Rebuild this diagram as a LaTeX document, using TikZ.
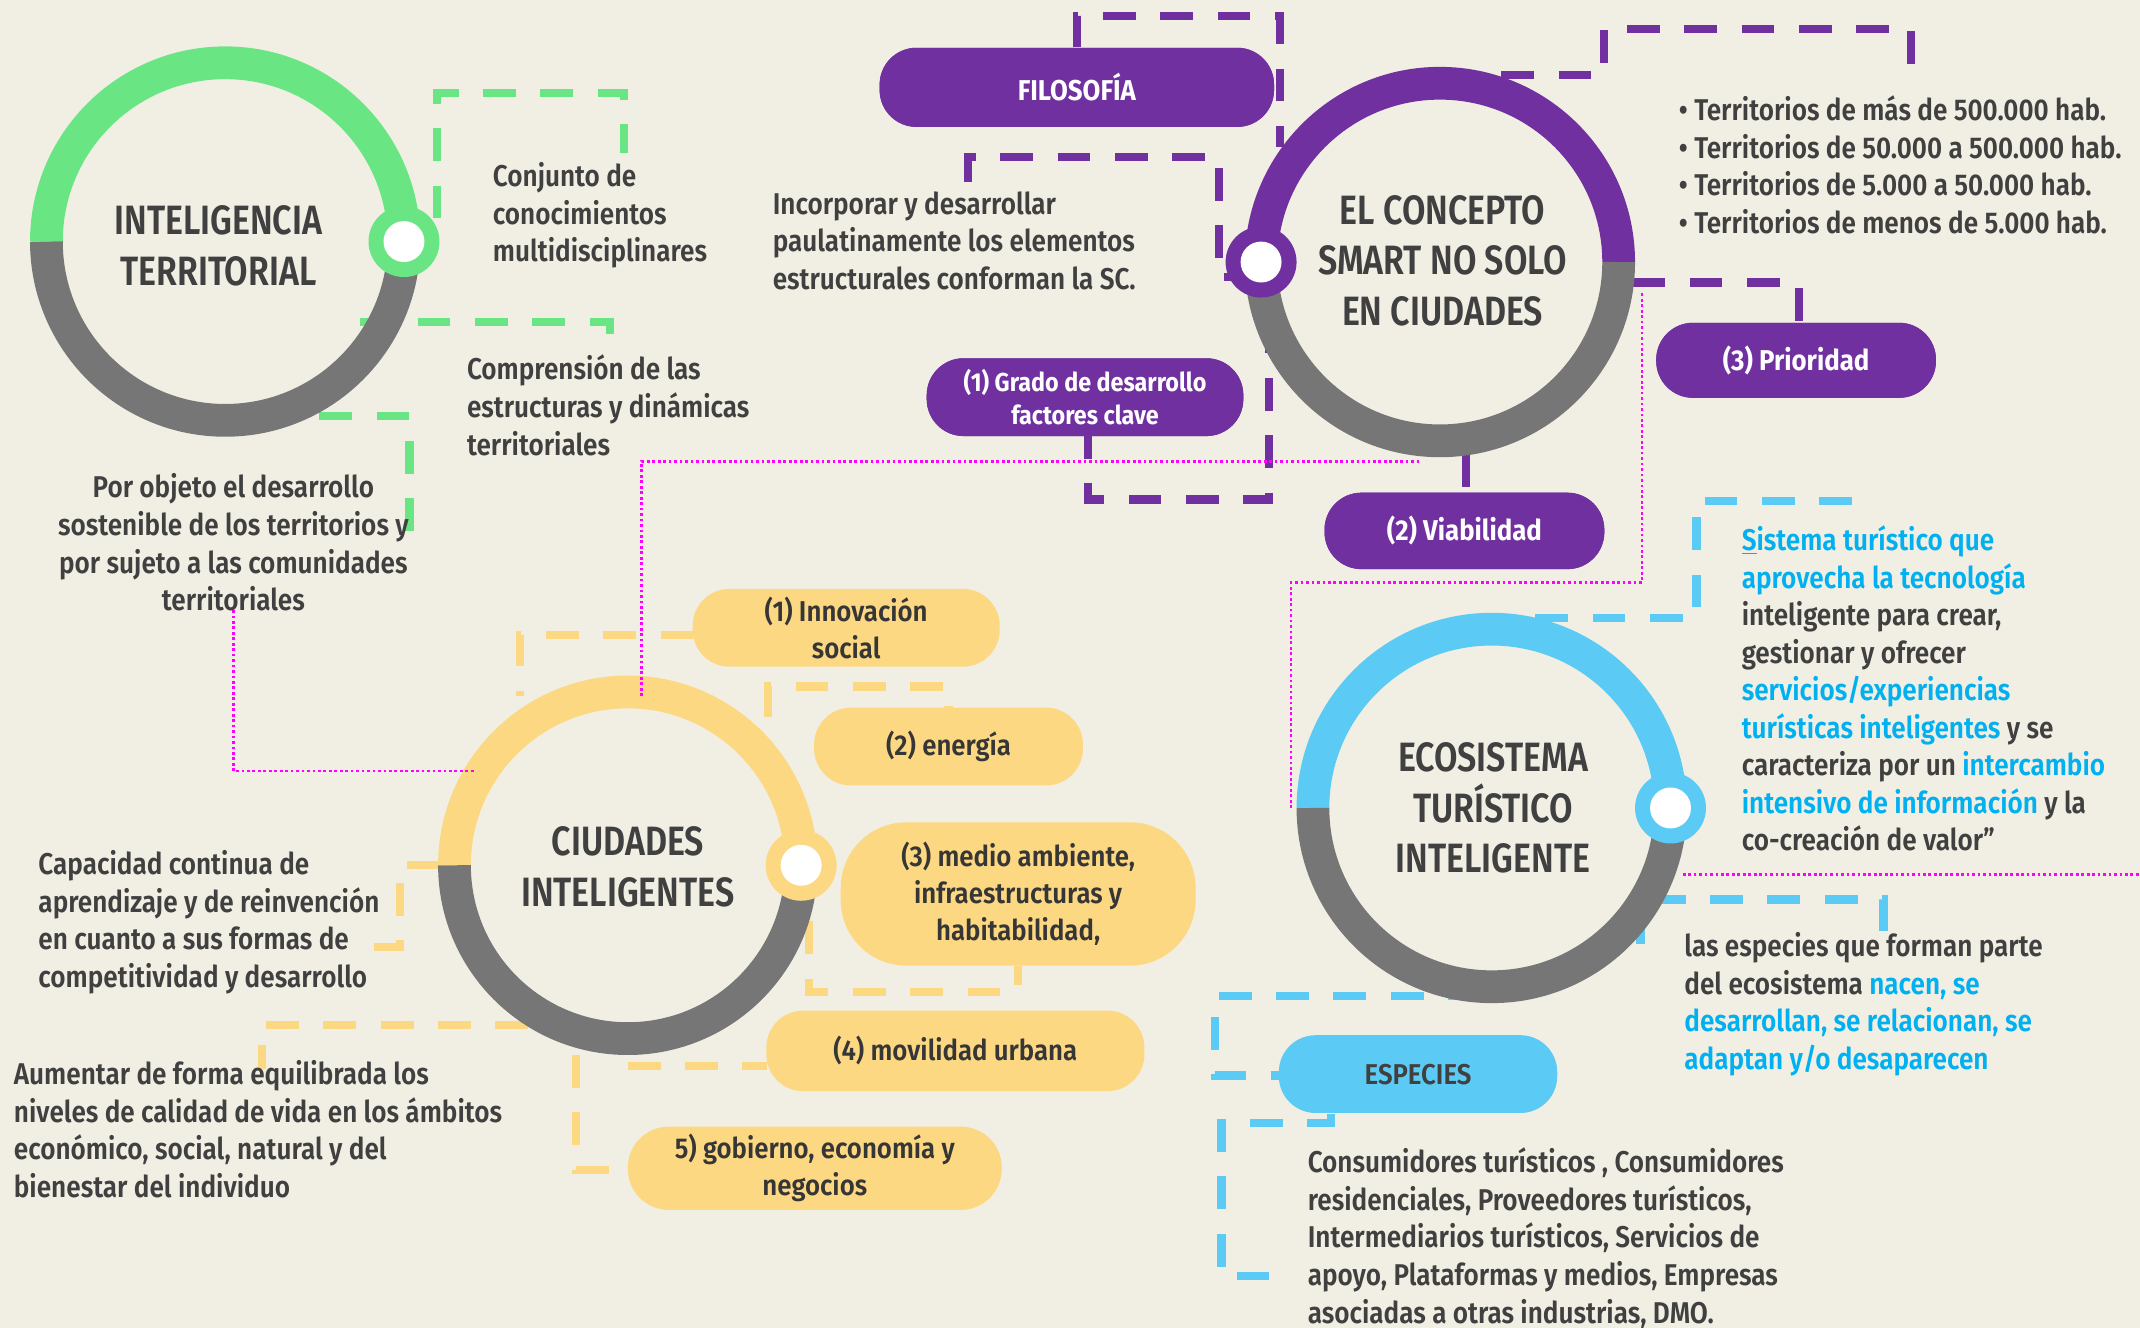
\documentclass[tikz,border=0pt]{standalone}
\usepackage{fontspec}
\setmainfont{Fira Sans}[UprightFont={* Medium}, BoldFont={* SemiBold}]
\newfontfamily\fbody{Fira Sans}[UprightFont={* SemiBold}, BoldFont={* Bold}, FakeStretch=0.87]
\newfontfamily\ftitle{Fira Sans}[UprightFont={* SemiBold}, BoldFont={* Bold}, FakeStretch=0.83]
\newfontfamily\fpill{Fira Sans}[UprightFont={* Bold}, BoldFont={* Bold}, FakeStretch=0.9]
\newfontfamily\fypill{Fira Sans}[UprightFont={* SemiBold}, BoldFont={* Bold}, FakeStretch=0.9]
\definecolor{bg}{HTML}{F1EFE3}
\definecolor{cgreen}{HTML}{6AE584}
\definecolor{cpurple}{HTML}{7030A0}
\definecolor{cyellow}{HTML}{FDD882}
\definecolor{cblue}{HTML}{5BCBF5}
\definecolor{cgray}{HTML}{767676}
\definecolor{ctext}{HTML}{404040}
\definecolor{cbt}{HTML}{00B0F0}
\definecolor{cmag}{HTML}{FF00FF}
\newcommand\drawring[5]{% x y color knobangle midradius
  \draw[line width=24pt, #3] (#1,#2) ++(180:#5) arc[start angle=180, end angle=360, radius=#5];
  \draw[line width=24pt, cgray] (#1,#2) ++(0:#5) arc[start angle=0, end angle=180, radius=#5];
  \fill[#3] (#1,#2) ++(#4:#5) circle[radius=26];
  \fill[white] (#1,#2) ++(#4:#5) circle[radius=15];
}
\begin{document}
\begin{tikzpicture}[x=1pt,y=-1pt,
  dashline/.style={line width=6pt, dash pattern=on 24pt off 18pt},
  dotline/.style={cmag, line width=2pt, dash pattern=on 2pt off 2pt},
  body/.style={inner sep=0pt, align=left, text=ctext, font=\fbody\fontsize{22}{27.5}\selectfont},
  title/.style={inner sep=0pt, align=center, text=ctext, font=\ftitle\fontsize{30}{37}\selectfont},
  ppill/.style={fill=cpurple, text=white, rounded corners=27pt, inner sep=0pt, align=center, font=\fpill\fontsize{21}{25}\selectfont},
  ypill/.style={fill=cyellow, text=ctext!85!black, rounded corners=27pt, inner sep=0pt, align=center, font=\fypill\fontsize{21}{27}\selectfont},
  bpill/.style={fill=cblue, text=ctext, rounded corners=27pt, inner sep=0pt, align=center, font=\fypill\fontsize{21}{27}\selectfont},
  ring/.style={circle, inner sep=0pt, minimum size=286pt}
  ]
\fill[bg] (0,0) rectangle (1568,973);
\useasboundingbox (0,0) rectangle (1568,973);

% circle anchors
\node[ring] (cit) at (165,177) {};
\node[ring] (csc) at (1055,192) {};
\node[ring, minimum size=280pt] (cci) at (460,634) {};
\node[ring] (ceti) at (1093,592) {};

% pill positions
\path node[ppill, minimum width=289pt, minimum height=58pt] (filo) at (789,64) {};
\path node[ppill, minimum width=232pt, minimum height=57pt] (grado) at (795,291) {};
\path node[ppill, minimum width=205pt, minimum height=56pt] (viab) at (1073,389) {};
\path node[ppill, minimum width=205pt, minimum height=55pt] (prior) at (1316,264) {};

% green dashed
\draw[dashline, cgreen] (320,160) -- (320,68) -- (457,68) -- (457,112);
\draw[dashline, cgreen] (264,236) -- (447,236) -- (447,247);
\draw[dashline, cgreen] (234,305) -- (300,305) -- (300,389);
% purple dashed
\draw[dashline, cpurple] (filo.north) -- (789,12) -- (938,12) -- (938,108);
\draw[dashline, cpurple] (709,133) -- (709,115) -- (893,115) -- (893,203) -- (905,203);
\draw[dashline, cpurple] (930,235) -- (930,366) -- (797,366) -- (grado.south -| 797,0);
\draw[dashline, cpurple] (1074,333) -- (viab.north -| 1074,0);
\draw[dashline, cpurple] (1100,55) -- (1175,55) -- (1175,21) -- (1400,21) -- (1400,51);
\draw[dashline, cpurple] (1196,207) -- (1318,207) -- (prior.north -| 1318,0);
% yellow dashed
\draw[dashline, cyellow] (508,465) -- (381,465) -- (381,510);
\draw[dashline, cyellow] (563,525) -- (563,503) -- (695,503) -- (695,519);
\draw[dashline, cyellow] (593,675) -- (593,727) -- (746,727) -- (746,708);
\draw[dashline, cyellow] (460,781) -- (562,781);
\draw[dashline, cyellow] (422,773) -- (422,857) -- (460,857);
\draw[dashline, cyellow] (322,634) -- (293,634) -- (293,694) -- (264,694);
\draw[dashline, cyellow] (387,751) -- (192,751) -- (192,783);
% blue dashed
\draw[dashline, cblue] (1125,453) -- (1243,453) -- (1243,367) -- (1362,367);
\draw[dashline, cblue] (1202,692) -- (1202,659) -- (1380,659) -- (1380,683);
\draw[dashline, cblue] (1085,730) -- (890,730) -- (890,788) -- (937,788);
\draw[dashline, cblue] (975,816) -- (975,823) -- (895,823) -- (895,935) -- (942,935);

% rings
\drawring{165}{177}{cgreen}{0}{131}
\drawring{1055}{192}{cpurple}{180}{131}
\drawring{460}{634}{cyellow}{0}{127}
\drawring{1093}{592}{cblue}{0}{131}

% magenta dotted
\draw[dotline] (171,447) -- (171,565) -- (348,565);
\draw[dotline] (470,510) -- (470,338) -- (1040,338);
\draw[dotline] (946,592) -- (946,427) -- (1203,427) -- (1203,214);
\draw[dotline] (1233,641) -- (1568,641);

% pills on top
\node[ppill, minimum width=289pt, minimum height=58pt] at (filo) {FILOSOFÍA};
\node[ppill, minimum width=232pt, minimum height=57pt, font=\fpill\fontsize{19}{24.5}\selectfont] at (grado) {(1) Grado de desarrollo\\factores clave};
\node[ppill, minimum width=205pt, minimum height=56pt] at (viab) {(2) Viabilidad};
\node[ppill, minimum width=205pt, minimum height=55pt] at (prior) {(3) Prioridad};
\node[ypill, minimum width=225pt, minimum height=57pt] (innov) at (620,460) {(1) Innovación\\social};
\node[ypill, minimum width=197pt, minimum height=57pt] (energ) at (695,547) {(2) energía};
\node[ypill, minimum width=260pt, minimum height=105pt, rounded corners=48pt] (medio) at (746,655) {(3) medio ambiente,\\infraestructuras y\\habitabilidad,};
\node[ypill, minimum width=277pt, minimum height=59pt] (movil) at (700,770) {(4) movilidad urbana};
\node[ypill, minimum width=274pt, minimum height=61pt, rounded corners=30pt] (gob) at (597,856) {5) gobierno, economía y\\negocios};
\node[bpill, minimum width=204pt, minimum height=57pt] (espec) at (1039,787) {ESPECIES};

% titles
\node[title] at (160,180) {INTELIGENCIA\\TERRITORIAL};
\node[title] at (1057,191) {EL CONCEPTO\\SMART NO SOLO\\EN CIUDADES};
\node[title] at (460,635) {CIUDADES\\INTELIGENTES};
\node[title] at (1094,592) {ECOSISTEMA\\TURÍSTICO\\INTELIGENTE};

% body texts
\node[body, anchor=north west] (tconj) at (361,119) {Conjunto de\\conocimientos\\multidisciplinares};
\node[body, anchor=north west] (tcomp) at (342,260) {Comprensión de las\\estructuras y dinámicas\\territoriales};
\node[body, anchor=north, align=center] (tpor) at (171,347) {Por objeto el desarrollo\\sostenible de los territorios y\\por sujeto a las comunidades\\territoriales};
\node[body, anchor=north west] (tinc) at (566,140) {Incorporar y desarrollar\\paulatinamente los elementos\\estructurales conforman la SC.};
\node[body, anchor=north west] (tbul) at (1230,70) {• Territorios de más de 500.000 hab.\\• Territorios de 50.000 a 500.000 hab.\\• Territorios de 5.000 a 50.000 hab.\\• Territorios de menos de 5.000 hab.};
\node[body, anchor=north west] (tsis) at (1276,385) {{\color{cbt}\underline{S}istema turístico que}\\{\color{cbt}aprovecha la tecnología}\\inteligente para crear,\\gestionar y ofrecer\\{\color{cbt}servicios/experiencias}\\{\color{cbt}turísticas inteligentes} y se\\caracteriza por un {\color{cbt}intercambio}\\{\color{cbt}intensivo de información} y la\\co-creación de valor”};
\node[body, anchor=north west] (tesp) at (1234,683) {las especies que forman parte\\del ecosistema {\color{cbt}nacen, se}\\{\color{cbt}desarrollan, se relacionan, se}\\{\color{cbt}adaptan y/o desaparecen}};
\node[body, anchor=north west] (tcon) at (958,841) {Consumidores turísticos , Consumidores\\residenciales, Proveedores turísticos,\\Intermediarios turísticos, Servicios de\\apoyo, Plataformas y medios, Empresas\\asociadas a otras industrias, DMO.};
\node[body, anchor=north west] (tcap) at (28,623) {Capacidad continua de\\aprendizaje y de reinvención\\en cuanto a sus formas de\\competitividad y desarrollo};
\node[body, anchor=north west] (taum) at (10,777) {Aumentar de forma equilibrada los\\niveles de calidad de vida en los ámbitos\\económico, social, natural y del\\bienestar del individuo};
\end{tikzpicture}
\end{document}
